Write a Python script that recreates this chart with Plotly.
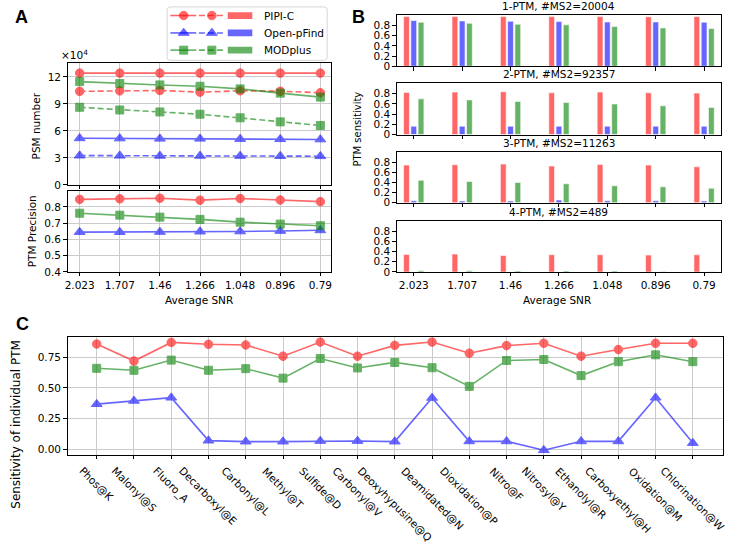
import plotly.graph_objects as go

W, H = 729, 548

# ---------------- data ----------------
snr_labels = ["2.023", "1.707", "1.46", "1.266", "1.048", "0.896", "0.79"]

# Panel A top: PSM number (solid = all PSMs, dashed = PTM PSMs)
psm_pipi_solid = [124100, 124100, 124100, 124100, 124100, 124100, 124100]
psm_pipi_dash = [103900, 104400, 104800, 103000, 104500, 104000, 102300]
psm_pfind_solid = [51800, 51600, 51300, 51300, 51000, 50800, 50500]
psm_pfind_dash = [32600, 32500, 32300, 32300, 32200, 32000, 31900]
psm_mod_solid = [114700, 112500, 111000, 109500, 106600, 101900, 97500]
psm_mod_dash = [86200, 83200, 81000, 78500, 74500, 70000, 66000]

# Panel A bottom: PTM precision
prec_pipi = [0.846, 0.849, 0.853, 0.841, 0.851, 0.842, 0.832]
prec_pfind = [0.645, 0.645, 0.646, 0.648, 0.649, 0.652, 0.656]
prec_mod = [0.761, 0.749, 0.737, 0.723, 0.706, 0.694, 0.684]

# Panel B: PTM sensitivity by number of PTMs
b_titles = ["1-PTM, #MS2=20004", "2-PTM, #MS2=92357", "3-PTM, #MS2=11263", "4-PTM, #MS2=489"]
sens_pipi = [
    [0.975, 0.975, 0.975, 0.975, 0.975, 0.972, 0.975],
    [0.826, 0.833, 0.840, 0.820, 0.833, 0.820, 0.813],
    [0.755, 0.762, 0.774, 0.735, 0.768, 0.755, 0.720],
    [0.345, 0.352, 0.325, 0.340, 0.340, 0.332, 0.338],
]
sens_pfind = [
    [0.897, 0.890, 0.885, 0.878, 0.870, 0.870, 0.865],
    [0.164, 0.164, 0.164, 0.164, 0.164, 0.164, 0.164],
    [0.040, 0.035, 0.035, 0.055, 0.040, 0.040, 0.035],
    [0.002, 0.002, 0.002, 0.002, 0.002, 0.002, 0.002],
]
sens_mod = [
    [0.865, 0.845, 0.826, 0.813, 0.780, 0.754, 0.740],
    [0.700, 0.680, 0.650, 0.630, 0.600, 0.564, 0.530],
    [0.450, 0.425, 0.406, 0.380, 0.340, 0.320, 0.290],
    [0.025, 0.022, 0.020, 0.020, 0.020, 0.012, 0.004],
]

# Panel C: sensitivity of individual PTM
ptm_names = ["Phos@K", "Malonyl@S", "Fluoro_A", "Decarboxyl@E", "Carbonyl@L", "Methyl@T",
             "Sulfide@D", "Carbonyl@V", "Deoxyhypusine@Q", "Deamidated@N", "Dioxidation@P",
             "Nitro@F", "Nitrosyl@Y", "Ethanolyl@R", "Carboxyethyl@H", "Oxidation@M",
             "Chlorination@W"]
ind_pipi = [0.857, 0.718, 0.870, 0.855, 0.849, 0.758, 0.873, 0.758, 0.846, 0.873, 0.782,
            0.844, 0.863, 0.758, 0.812, 0.863, 0.863]
ind_mod = [0.659, 0.643, 0.726, 0.643, 0.656, 0.579, 0.739, 0.662, 0.707, 0.664, 0.512,
           0.723, 0.731, 0.600, 0.713, 0.769, 0.713]
ind_pfind = [0.367, 0.394, 0.420, 0.070, 0.062, 0.062, 0.067, 0.067, 0.062, 0.418, 0.064,
             0.064, -0.008, 0.064, 0.064, 0.420, 0.050]

tools = ["PIPI-C", "Open-pFind", "MODplus"]
line_colors = ["#ff0000", "#0000ff", "#008000"]
bar_colors = ["#ff6666", "#6666ff", "#66b366"]
symbols = ["circle", "triangle-up", "square"]
msizes = [8.5, 9.5, 8]

FONT = "DejaVu Sans"
FS = 10.5
GRID = "#cbcbcb"


def px_x(p):
    return p / W


def px_y(p):
    return 1 - p / H


fig = go.Figure()
idx = list(range(len(snr_labels)))


def add_line(xs, ys, k, xa, ya, dash="solid"):
    fig.add_trace(go.Scatter(
        x=xs, y=ys, mode="lines+markers", xaxis=xa, yaxis=ya, showlegend=False,
        opacity=0.6, line=dict(color=line_colors[k], width=1.6, dash=dash),
        marker=dict(symbol=symbols[k], size=msizes[k], color=line_colors[k],
                    line=dict(color=line_colors[k], width=1)),
        hoverinfo="skip"))


# Panel A top
for k, (s, d) in enumerate([(psm_pipi_solid, psm_pipi_dash),
                            (psm_pfind_solid, psm_pfind_dash),
                            (psm_mod_solid, psm_mod_dash)]):
    add_line(idx, s, k, "x", "y")
    add_line(idx, d, k, "x", "y", dash="6px,3px")

# Panel A bottom
for k, v in enumerate([prec_pipi, prec_pfind, prec_mod]):
    add_line(idx, v, k, "x2", "y2")

# Panel B bars
b_axes = [("x3", "y3"), ("x4", "y4"), ("x5", "y5"), ("x6", "y6")]
offsets = [-0.21, -0.06, 0.09]
for j, (xa, ya) in enumerate(b_axes):
    for k, vals in enumerate([sens_pipi[j], sens_pfind[j], sens_mod[j]]):
        fig.add_trace(go.Bar(
            x=idx, y=vals, xaxis=xa, yaxis=ya, width=0.12, offset=offsets[k],
            marker=dict(color=bar_colors[k], line=dict(color="white", width=0.6)),
            showlegend=False, hoverinfo="skip"))

# Panel C
cidx = list(range(len(ptm_names)))
for k, v in enumerate([ind_pipi, ind_pfind, ind_mod]):
    add_line(cidx, v, k, "x7", "y7")

# ---------------- axes ----------------
frame = dict(showline=True, linecolor="black", linewidth=1, mirror=True,
             ticks="outside", ticklen=3.5, tickwidth=1, tickcolor="black",
             tickfont=dict(family=FONT, size=FS, color="black"), zeroline=False)

xa_dom = [px_x(65), px_x(330)]
fig.update_layout(
    xaxis=dict(domain=xa_dom, anchor="y", range=[-0.3, 6.27], tickvals=idx,
               showticklabels=False, showgrid=True, gridcolor=GRID, **frame),
    yaxis=dict(domain=[px_y(187), px_y(64)], anchor="x", range=[0, 135000],
               tickvals=[0, 30000, 60000, 90000, 120000], ticktext=["0", "3", "6", "9", "12"],
               showgrid=True, gridcolor=GRID, **frame),
    xaxis2=dict(domain=xa_dom, anchor="y2", range=[-0.3, 6.27], tickvals=idx,
                ticktext=snr_labels, showgrid=True, gridcolor=GRID, **frame),
    yaxis2=dict(domain=[px_y(275), px_y(193)], anchor="x2", range=[0.4, 0.898],
                tickvals=[0.4, 0.5, 0.6, 0.7, 0.8], ticktext=["0.4", "0.5", "0.6", "0.7", "0.8"],
                showgrid=True, gridcolor=GRID, **frame),
)

b_doms = [(67, 15), (136, 84), (205, 154), (275, 223)]
xb_dom = [px_x(396), px_x(722)]
for j, (bot, top) in enumerate(b_doms):
    n = j + 3
    fig.update_layout({
        f"xaxis{n}": dict(domain=xb_dom, anchor=f"y{n}", range=[-0.35, 6.35], tickvals=idx,
                          ticktext=snr_labels, showticklabels=(j == 3), showgrid=False, **frame),
        f"yaxis{n}": dict(domain=[px_y(bot), px_y(top)], anchor=f"x{n}", range=[0, 1.01],
                          tickvals=[0, 0.2, 0.4, 0.6, 0.8],
                          ticktext=["0", "0.2", "0.4", "0.6", "0.8"], showgrid=False, **frame),
    })

fig.update_layout(
    xaxis7=dict(domain=[px_x(65), px_x(724)], anchor="y7", range=[-0.78, 16.81],
                tickvals=cidx, showticklabels=False, showgrid=True, gridcolor=GRID, **frame),
    yaxis7=dict(domain=[px_y(460), px_y(341)], anchor="x7", range=[-0.047, 0.912],
                tickvals=[0, 0.25, 0.5, 0.75], ticktext=["0.00", "0.25", "0.50", "0.75"],
                showgrid=True, gridcolor=GRID, **frame),
)

# ---------------- legend (custom, hidden axis) ----------------
LX0, LX1, LY0, LY1 = 165, 326, 7, 61   # legend box in pixels
PAD = 3
fig.update_layout(
    xaxis8=dict(domain=[px_x(LX0 - PAD), px_x(LX1 + PAD)], anchor="y8",
                range=[-PAD, LX1 - LX0 + PAD], visible=False, fixedrange=True),
    yaxis8=dict(domain=[px_y(LY1 + PAD), px_y(LY0 - PAD)], anchor="x8",
                range=[LY1 - LY0 + PAD, -PAD], visible=False, fixedrange=True),
)
bw, bh, rr = LX1 - LX0, LY1 - LY0, 3
box_path = (f"M {rr},0 L {bw - rr},0 Q {bw},0 {bw},{rr} L {bw},{bh - rr} "
            f"Q {bw},{bh} {bw - rr},{bh} L {rr},{bh} Q 0,{bh} 0,{bh - rr} L 0,{rr} Q 0,0 {rr},0 Z")
shapes = [dict(type="path", xref="x8", yref="y8", path=box_path,
               line=dict(color="#d6d6d6", width=1), fillcolor="white",
               layer="below")]
rows = [8.7, 26.3, 43.7]
annotations = []
for k, r in enumerate(rows):
    fig.add_trace(go.Scatter(x=[3.3, 29.3], y=[r, r], mode="lines", xaxis="x8", yaxis="y8",
                             opacity=0.6, line=dict(color=line_colors[k], width=1.6),
                             showlegend=False, hoverinfo="skip"))
    fig.add_trace(go.Scatter(x=[32, 58], y=[r, r], mode="lines", xaxis="x8", yaxis="y8",
                             opacity=0.6, line=dict(color=line_colors[k], width=1.6, dash="6px,3px"),
                             showlegend=False, hoverinfo="skip"))
    fig.add_trace(go.Scatter(x=[16.7, 45], y=[r, r], mode="markers", xaxis="x8", yaxis="y8",
                             opacity=0.6,
                             marker=dict(symbol=symbols[k], size=msizes[k], color=line_colors[k],
                                         line=dict(color=line_colors[k], width=1)),
                             showlegend=False, hoverinfo="skip"))
    shapes.append(dict(type="rect", xref="x8", yref="y8", x0=61, x1=85.7, y0=r - 3.4, y1=r + 3.4,
                       fillcolor=bar_colors[k], line=dict(width=0), layer="above"))
    annotations.append(dict(xref="x8", yref="y8", x=95, y=r, text=tools[k], showarrow=False,
                            xanchor="left", yanchor="middle",
                            font=dict(family=FONT, size=FS, color="black")))


# ---------------- text ----------------
def ann(x, y, text, size=FS, angle=0, xanchor="center", yanchor="middle", family=FONT):
    annotations.append(dict(xref="paper", yref="paper", x=px_x(x), y=px_y(y), text=text,
                            showarrow=False, textangle=angle, xanchor=xanchor, yanchor=yanchor,
                            font=dict(family=family, size=size, color="black")))


ann(10, 17, "<b>A</b>", size=18, xanchor="left", family="Liberation Sans")
ann(349, 17, "<b>B</b>", size=18, xanchor="left", family="Liberation Sans")
ann(11, 328, "<b>C</b>", size=18, xanchor="left", family="Liberation Sans")
ann(56, 64, "×10<sup>4</sup>", xanchor="left", yanchor="bottom")
ann(33, 127, "PSM number", angle=-90)
ann(30, 234, "PTM Precision", angle=-90)
ann(197.5, 303, "Average SNR")
ann(557, 303, "Average SNR")
ann(357, 131, "PTM sensitivity", angle=-90, size=10)
ann(13, 428.5, "Sensitivity of individual PTM", angle=-90, size=12)

for j, (bot, top) in enumerate(b_doms):
    ann(559, top - 1, b_titles[j], yanchor="bottom")

# Panel C rotated category labels (placed at category positions on x7)
for i, name in enumerate(ptm_names):
    annotations.append(dict(xref="x7", yref="paper", x=i, y=px_y(467), text=name,
                            showarrow=False, textangle=45, xanchor="center", yanchor="top",
                            font=dict(family=FONT, size=FS, color="black")))

fig.update_layout(
    width=W, height=H, margin=dict(l=0, r=0, t=0, b=0),
    paper_bgcolor="white", plot_bgcolor="white",
    barmode="overlay", showlegend=False,
    shapes=shapes, annotations=annotations,
    font=dict(family=FONT, size=FS, color="black"),
)

fig.write_html("out.html")
